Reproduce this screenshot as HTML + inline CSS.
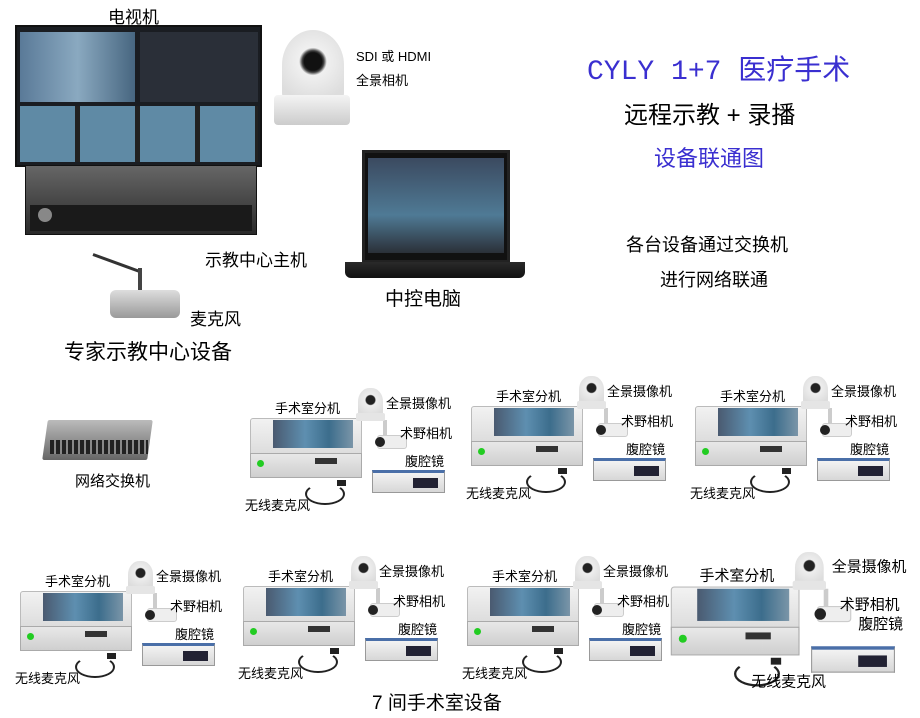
<!DOCTYPE html>
<html><head><meta charset="utf-8"><style>
*{margin:0;padding:0;box-sizing:border-box}
body{width:920px;height:718px;background:#fff;position:relative;overflow:hidden;font-family:"Liberation Sans","Noto Sans CJK SC",sans-serif;color:#000}
.a{position:absolute}
.t{position:absolute;white-space:nowrap;font-size:14px}
.u{position:absolute;width:210px;height:120px}
.u .lbl{position:absolute;font-size:13px;white-space:nowrap}
.dev{position:absolute;left:5px;top:23px;width:112px;height:38px;background:linear-gradient(#f2f2f2,#dcdcdc);border:1px solid #bbb;border-radius:3px 3px 0 0}
.front{position:absolute;left:5px;top:58px;width:112px;height:25px;background:linear-gradient(#e8e8e8,#cfcfcf);border:1px solid #aaa}
.scr{position:absolute;left:28px;top:25px;width:80px;height:28px;background:linear-gradient(90deg,#4a5a70,#5e8fb0 40%,#3c6d8c 70%,#7a95a8)}
.grn{position:absolute;left:12px;top:65px;width:7px;height:7px;border-radius:50%;background:#2c2}
.disp{position:absolute;left:70px;top:63px;width:22px;height:6px;background:#333}
.cam{position:absolute;left:113px;top:-7px;width:25px;height:30px;background:radial-gradient(circle at 50% 40%,#222 20%,#eee 25%,#ddd 70%);border-radius:45% 45% 10% 10%}
.cam:after{content:"";position:absolute;left:-2px;bottom:-3px;width:29px;height:8px;background:#e5e5e5;border-radius:2px}
.pole{position:absolute;left:138px;top:25px;width:4px;height:18px;background:#ccc}
.sc{position:absolute;left:132px;top:40px;width:30px;height:14px;background:#eee;border:1px solid #ccc;border-radius:3px}
.sc:before{content:"";position:absolute;left:-3px;top:1px;width:10px;height:10px;border-radius:50%;background:#222}
.lap{position:absolute;left:127px;top:75px;width:73px;height:23px;background:linear-gradient(#f3f3f3,#d7d7d7);border:1px solid #999;border-top:3px solid #4a6fa8}
.lap:after{content:"";position:absolute;left:40px;top:5px;width:25px;height:10px;background:#223}
.mic{position:absolute;left:60px;top:88px;width:40px;height:22px;border:2px solid #222;border-radius:50%;border-top-color:transparent}
.micb{position:absolute;left:92px;top:85px;width:9px;height:6px;background:#222}
</style></head><body>

<!-- TV -->
<div class="t" style="left:108px;top:3px;font-size:17px">电视机</div>
<div class="a" style="left:15px;top:25px;width:247px;height:142px;background:#1a1d22;border:2px solid #111"></div>
<div class="a" style="left:20px;top:32px;width:115px;height:70px;background:linear-gradient(90deg,#5a7a98,#8aa9c0,#476680)"></div>
<div class="a" style="left:140px;top:32px;width:118px;height:70px;background:#2a2f38"></div>
<div class="a" style="left:20px;top:106px;width:238px;height:56px;background:repeating-linear-gradient(90deg,#5f8aa5 0 55px,#222 55px 60px)"></div>
<!-- host -->
<div class="a" style="left:25px;top:165px;width:232px;height:70px;background:linear-gradient(#666,#2a2a2a);border:1px solid #111"></div>
<div class="a" style="left:30px;top:205px;width:222px;height:26px;background:#1a1a1a"></div>
<div class="a" style="left:38px;top:208px;width:14px;height:14px;border-radius:50%;background:#888"></div>
<div class="t" style="left:205px;top:246px;font-size:17px">示教中心主机</div>
<!-- mic -->
<div class="a" style="left:93px;top:253px;width:50px;height:3px;background:#333;transform:rotate(20deg);transform-origin:left"></div>
<div class="a" style="left:138px;top:268px;width:4px;height:30px;background:#444"></div>
<div class="a" style="left:110px;top:290px;width:70px;height:28px;background:linear-gradient(#ddd,#999);border-radius:6px"></div>
<div class="t" style="left:190px;top:305px;font-size:17px">麦克风</div>
<div class="t" style="left:64px;top:336px;font-size:21px">专家示教中心设备</div>

<!-- PTZ camera -->
<div class="a" style="left:282px;top:30px;width:62px;height:70px;border-radius:50% 50% 10% 10%;background:radial-gradient(circle at 50% 45%,#111 18%,#444 22%,#f0f0f0 28%,#ddd 80%)"></div>
<div class="a" style="left:274px;top:95px;width:76px;height:30px;background:linear-gradient(#f4f4f4,#ccc);border-radius:4px"></div>
<div class="t" style="left:356px;top:46px;font-size:13px">SDI 或 HDMI</div>
<div class="t" style="left:356px;top:70px;font-size:13px">全景相机</div>

<!-- laptop -->
<div class="a" style="left:362px;top:150px;width:148px;height:113px;background:#111;border:3px solid #222"></div>
<div class="a" style="left:368px;top:158px;width:136px;height:95px;background:linear-gradient(#3b4a60,#4f7a95 60%,#2b3038)"></div>
<div class="a" style="left:345px;top:262px;width:180px;height:16px;background:linear-gradient(#2a2a2a,#111);border-radius:0 0 6px 6px"></div>
<div class="t" style="left:385px;top:284px;font-size:19px">中控电脑</div>

<!-- titles -->
<div class="t" style="left:587px;top:48px;font-size:28px;color:#3a2fd0;font-family:'Liberation Mono','Noto Sans CJK SC',monospace">CYLY 1+7 医疗手术</div>
<div class="t" style="left:624px;top:95px;font-size:24px">远程示教 + 录播</div>
<div class="t" style="left:654px;top:141px;font-size:22px;color:#3a2fd0">设备联通图</div>
<div class="t" style="left:626px;top:231px;font-size:18px">各台设备通过交换机</div>
<div class="t" style="left:660px;top:266px;font-size:18px">进行网络联通</div>

<!-- switch -->
<div class="a" style="left:45px;top:420px;width:105px;height:40px;background:linear-gradient(#bbb,#666);transform:skewX(-8deg);border-radius:2px"></div>
<div class="a" style="left:50px;top:440px;width:98px;height:14px;background:repeating-linear-gradient(90deg,#222 0 4px,#888 4px 6px)"></div>
<div class="t" style="left:75px;top:470px;font-size:15px">网络交换机</div>

<!-- units -->
<div class="u" style="left:245px;top:395px">
<div class="lbl" style="left:30px;top:3px">手术室分机</div><div class="dev"></div><div class="front"></div><div class="scr"></div><div class="grn"></div><div class="disp"></div><div class="pole"></div><div class="cam"></div><div class="sc"></div><div class="lap"></div><div class="mic"></div><div class="micb"></div>
<div class="lbl" style="left:141px;top:-2px">全景摄像机</div><div class="lbl" style="left:155px;top:28px">术野相机</div><div class="lbl" style="left:160px;top:56px">腹腔镜</div><div class="lbl" style="left:0px;top:100px">无线麦克风</div></div>

<div class="u" style="left:466px;top:383px">
<div class="lbl" style="left:30px;top:3px">手术室分机</div><div class="dev"></div><div class="front"></div><div class="scr"></div><div class="grn"></div><div class="disp"></div><div class="pole"></div><div class="cam"></div><div class="sc"></div><div class="lap"></div><div class="mic"></div><div class="micb"></div>
<div class="lbl" style="left:141px;top:-2px">全景摄像机</div><div class="lbl" style="left:155px;top:28px">术野相机</div><div class="lbl" style="left:160px;top:56px">腹腔镜</div><div class="lbl" style="left:0px;top:100px">无线麦克风</div></div>

<div class="u" style="left:690px;top:383px">
<div class="lbl" style="left:30px;top:3px">手术室分机</div><div class="dev"></div><div class="front"></div><div class="scr"></div><div class="grn"></div><div class="disp"></div><div class="pole"></div><div class="cam"></div><div class="sc"></div><div class="lap"></div><div class="mic"></div><div class="micb"></div>
<div class="lbl" style="left:141px;top:-2px">全景摄像机</div><div class="lbl" style="left:155px;top:28px">术野相机</div><div class="lbl" style="left:160px;top:56px">腹腔镜</div><div class="lbl" style="left:0px;top:100px">无线麦克风</div></div>

<div class="u" style="left:15px;top:568px">
<div class="lbl" style="left:30px;top:3px">手术室分机</div><div class="dev"></div><div class="front"></div><div class="scr"></div><div class="grn"></div><div class="disp"></div><div class="pole"></div><div class="cam"></div><div class="sc"></div><div class="lap"></div><div class="mic"></div><div class="micb"></div>
<div class="lbl" style="left:141px;top:-2px">全景摄像机</div><div class="lbl" style="left:155px;top:28px">术野相机</div><div class="lbl" style="left:160px;top:56px">腹腔镜</div><div class="lbl" style="left:0px;top:100px">无线麦克风</div></div>

<div class="u" style="left:238px;top:563px">
<div class="lbl" style="left:30px;top:3px">手术室分机</div><div class="dev"></div><div class="front"></div><div class="scr"></div><div class="grn"></div><div class="disp"></div><div class="pole"></div><div class="cam"></div><div class="sc"></div><div class="lap"></div><div class="mic"></div><div class="micb"></div>
<div class="lbl" style="left:141px;top:-2px">全景摄像机</div><div class="lbl" style="left:155px;top:28px">术野相机</div><div class="lbl" style="left:160px;top:56px">腹腔镜</div><div class="lbl" style="left:0px;top:100px">无线麦克风</div></div>

<div class="u" style="left:462px;top:563px">
<div class="lbl" style="left:30px;top:3px">手术室分机</div><div class="dev"></div><div class="front"></div><div class="scr"></div><div class="grn"></div><div class="disp"></div><div class="pole"></div><div class="cam"></div><div class="sc"></div><div class="lap"></div><div class="mic"></div><div class="micb"></div>
<div class="lbl" style="left:141px;top:-2px">全景摄像机</div><div class="lbl" style="left:155px;top:28px">术野相机</div><div class="lbl" style="left:160px;top:56px">腹腔镜</div><div class="lbl" style="left:0px;top:100px">无线麦克风</div></div>

<div class="u" style="left:665px;top:560px;transform:scale(1.15);transform-origin:0 0">
<div class="lbl" style="left:30px;top:3px">手术室分机</div><div class="dev"></div><div class="front"></div><div class="scr"></div><div class="grn"></div><div class="disp"></div><div class="pole"></div><div class="cam"></div><div class="sc"></div><div class="lap"></div><div class="mic"></div><div class="micb"></div>
<div class="lbl" style="left:145px;top:-5px">全景摄像机</div><div class="lbl" style="left:152px;top:28px">术野相机</div><div class="lbl" style="left:168px;top:45px">腹腔镜</div><div class="lbl" style="left:75px;top:95px">无线麦克风</div></div>

<div class="t" style="left:372px;top:688px;font-size:19px">7 间手术室设备</div>
</body></html>
